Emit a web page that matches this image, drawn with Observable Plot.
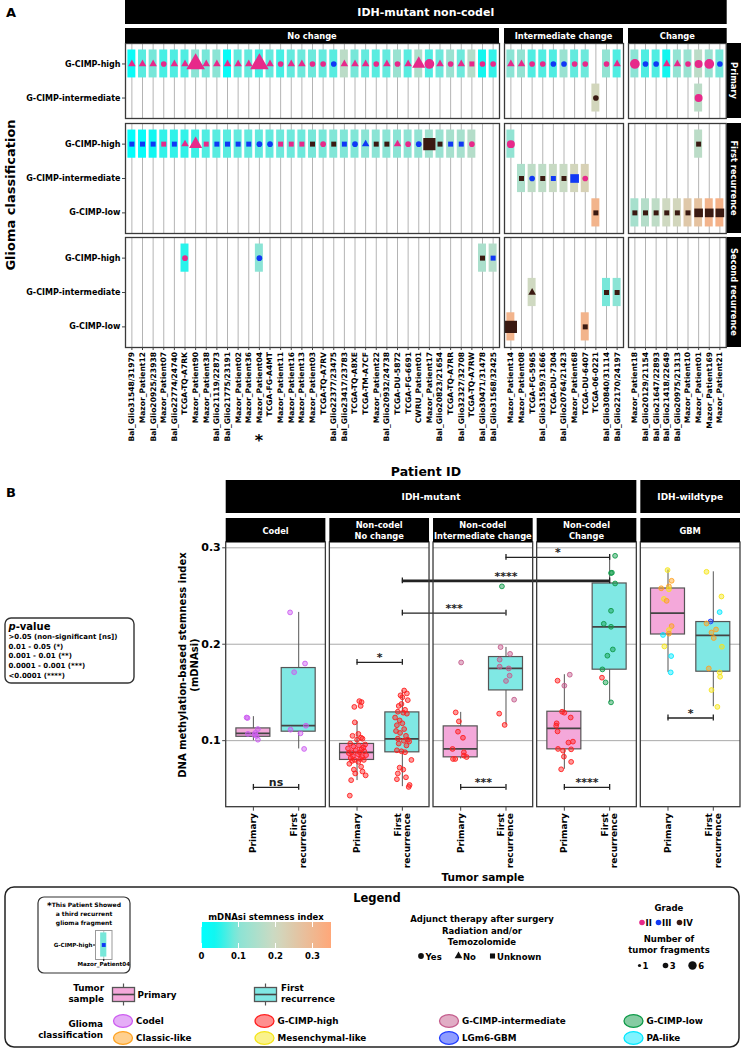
<!DOCTYPE html>
<html><head><meta charset="utf-8">
<script src="https://cdn.jsdelivr.net/npm/d3@7"></script>
<script src="https://cdn.jsdelivr.net/npm/@observablehq/plot@0.6"></script>
<style>
body{margin:0;background:#fff;}
#root{position:relative;width:741px;height:1050px;overflow:hidden;background:#fff;font-family:"DejaVu Sans",sans-serif;}
</style></head>
<body><div id="root"></div>
<script>
// ---------------- DATA ----------------
const noChangePatients = ["Bal_Glio31548/31979","Mazor_Patient12","Bal_Glio20925/23938","Mazor_Patient07","Bal_Glio22774/24740","TCGA-TQ-A7RK","Mazor_Patient90","Mazor_Patient38","Bal_Glio21119/22873","Bal_Glio21775/23191","Mazor_Patient02","Mazor_Patient36","Mazor_Patient04","TCGA-FG-A4MT","Mazor_Patient11","Mazor_Patient16","Mazor_Patient13","Mazor_Patient03","TCGA-TQ-A7RV","Bal_Glio22377/23475","Bal_Glio23417/23783","TCGA-TQ-A8XE","TCGA-TM-A7CF","Mazor_Patient22","Bal_Glio20932/24738","TCGA-DU-5872","TCGA-FG-6691","CWRU_Patient01","Mazor_Patient17","Bal_Glio20823/21654","TCGA-TQ-A7RR","Bal_Glio32327/32708","TCGA-TQ-A7RW","Bal_Glio30471/31478","Bal_Glio31568/32425"];
const intermediatePatients = ["Mazor_Patient14","Mazor_Patient08","TCGA-FG-5965","Bal_Glio31559/31666","TCGA-DU-7304","Bal_Glio20764/21423","Mazor_Patient68","TCGA-DU-6407","TCGA-06-0221","Bal_Glio30840/31114","Bal_Glio22170/24197"];
const changePatients = ["Mazor_Patient18","Bal_Glio20129/21154","Bal_Glio21647/22893","Bal_Glio21418/22649","Bal_Glio20975/21313","Mazor_Patient10","Mazor_Patient01","Mazor_Patient169","Mazor_Patient21"];
const groupNames = ["No change","Intermediate change","Change"];
const stageNames = ["Primary","First recurrence","Second recurrence"];
const primaryClasses = ["G-CIMP-high","G-CIMP-intermediate"];
const recurrenceClasses = ["G-CIMP-high","G-CIMP-intermediate","G-CIMP-low"];

// [patient, classification, mDNAsi, grade, adjunct therapy, number of fragments]
const primarySamples = [
["Bal_Glio31548/31979","G-CIMP-high",0.02,"II","No",1],
["Mazor_Patient12","G-CIMP-high",0.075,"II","No",1],
["Bal_Glio20925/23938","G-CIMP-high",0.09,"II","No",1],
["Mazor_Patient07","G-CIMP-high",0.065,"II","Yes",1],
["Bal_Glio22774/24740","G-CIMP-high",0.07,"II","No",1],
["TCGA-TQ-A7RK","G-CIMP-high",0.07,"II","No",1],
["Mazor_Patient90","G-CIMP-high",0.1,"II","No",6],
["Mazor_Patient38","G-CIMP-high",0.09,"II","No",1],
["Bal_Glio21119/22873","G-CIMP-high",0.1,"II","No",1],
["Bal_Glio21775/23191","G-CIMP-high",0.02,"II","No",1],
["Mazor_Patient02","G-CIMP-high",0.08,"II","No",1],
["Mazor_Patient36","G-CIMP-high",0.08,"II","No",1],
["Mazor_Patient04","G-CIMP-high",0.065,"II","No",6],
["TCGA-FG-A4MT","G-CIMP-high",0.08,"II","No",1],
["Mazor_Patient11","G-CIMP-high",0.065,"II","Yes",1],
["Mazor_Patient16","G-CIMP-high",0.08,"II","No",1],
["Mazor_Patient13","G-CIMP-high",0.085,"II","No",1],
["Mazor_Patient03","G-CIMP-high",0.085,"II","Yes",1],
["TCGA-TQ-A7RV","G-CIMP-high",0.08,"II","Yes",1],
["Bal_Glio22377/23475","G-CIMP-high",0.075,"III","Yes",1],
["Bal_Glio23417/23783","G-CIMP-high",0.17,"II","No",1],
["TCGA-TQ-A8XE","G-CIMP-high",0.09,"II","No",1],
["TCGA-TM-A7CF","G-CIMP-high",0.08,"II","No",1],
["Mazor_Patient22","G-CIMP-high",0.075,"II","Yes",1],
["Bal_Glio20932/24738","G-CIMP-high",0.08,"II","No",1],
["TCGA-DU-5872","G-CIMP-high",0.12,"II","Yes",1],
["TCGA-FG-6691","G-CIMP-high",0.075,"II","No",1],
["CWRU_Patient01","G-CIMP-high",0.15,"II","No",3],
["Mazor_Patient17","G-CIMP-high",0.07,"II","Yes",3],
["Bal_Glio20823/21654","G-CIMP-high",0.085,"II","No",1],
["TCGA-TQ-A7RR","G-CIMP-high",0.12,"II","Yes",1],
["Bal_Glio32327/32708","G-CIMP-high",0.085,"II","No",1],
["TCGA-TQ-A7RW","G-CIMP-high",0.16,"II","Unknown",1],
["Bal_Glio30471/31478","G-CIMP-high",0.04,"II","Yes",1],
["Bal_Glio31568/32425","G-CIMP-high",0.055,"II","Yes",1],
["Mazor_Patient14","G-CIMP-high",0.1,"II","No",1],
["Mazor_Patient08","G-CIMP-high",0.11,"II","No",1],
["TCGA-FG-5965","G-CIMP-high",0.07,"II","Yes",1],
["Bal_Glio31559/31666","G-CIMP-high",0.07,"II","Yes",1],
["TCGA-DU-7304","G-CIMP-high",0.07,"III","Yes",1],
["Bal_Glio20764/21423","G-CIMP-high",0.12,"III","Yes",1],
["Mazor_Patient68","G-CIMP-high",0.08,"II","Yes",1],
["TCGA-DU-6407","G-CIMP-high",0.085,"II","Yes",1],
["TCGA-06-0221","G-CIMP-intermediate",0.21,"IV","Yes",1],
["Bal_Glio30840/31114","G-CIMP-high",0.11,"II","Yes",1],
["Bal_Glio22170/24197","G-CIMP-high",0.07,"II","No",1],
["Mazor_Patient18","G-CIMP-high",0.1,"II","Yes",3],
["Bal_Glio20129/21154","G-CIMP-high",0.07,"III","Yes",1],
["Bal_Glio21647/22893","G-CIMP-high",0.07,"III","Yes",1],
["Bal_Glio21418/22649","G-CIMP-high",0.04,"II","No",1],
["Bal_Glio20975/21313","G-CIMP-high",0.11,"II","No",1],
["Mazor_Patient10","G-CIMP-high",0.12,"II","Yes",1],
["Mazor_Patient01","G-CIMP-high",0.17,"II","Yes",2],
["Mazor_Patient01","G-CIMP-intermediate",0.17,"II","Yes",2],
["Mazor_Patient169","G-CIMP-high",0.12,"II","Yes",3],
["Mazor_Patient21","G-CIMP-high",0.09,"III","Yes",1]
];
const firstRecurrenceSamples = [
["Bal_Glio31548/31979","G-CIMP-high",0.01,"III","Unknown",1],
["Mazor_Patient12","G-CIMP-high",0.015,"III","Unknown",1],
["Bal_Glio20925/23938","G-CIMP-high",0.035,"III","Unknown",1],
["Mazor_Patient07","G-CIMP-high",0.055,"II","Unknown",1],
["Bal_Glio22774/24740","G-CIMP-high",0.055,"III","Unknown",1],
["TCGA-TQ-A7RK","G-CIMP-high",0.055,"II","No",1],
["Mazor_Patient90","G-CIMP-high",0.06,"II","No",3],
["Mazor_Patient38","G-CIMP-high",0.07,"II","Unknown",1],
["Bal_Glio21119/22873","G-CIMP-high",0.075,"III","Unknown",1],
["Bal_Glio21775/23191","G-CIMP-high",0.075,"III","Unknown",1],
["Mazor_Patient02","G-CIMP-high",0.08,"III","Unknown",1],
["Mazor_Patient36","G-CIMP-high",0.08,"III","Unknown",1],
["Mazor_Patient04","G-CIMP-high",0.08,"III","Yes",1],
["TCGA-FG-A4MT","G-CIMP-high",0.08,"III","Yes",1],
["Mazor_Patient11","G-CIMP-high",0.085,"II","Unknown",1],
["Mazor_Patient16","G-CIMP-high",0.085,"II","Unknown",1],
["Mazor_Patient13","G-CIMP-high",0.085,"II","Unknown",1],
["Mazor_Patient03","G-CIMP-high",0.09,"IV","Unknown",1],
["TCGA-TQ-A7RV","G-CIMP-high",0.09,"II","Yes",1],
["Bal_Glio22377/23475","G-CIMP-high",0.095,"IV","Unknown",1],
["Bal_Glio23417/23783","G-CIMP-high",0.095,"III","Unknown",1],
["TCGA-TQ-A8XE","G-CIMP-high",0.095,"III","Yes",1],
["TCGA-TM-A7CF","G-CIMP-high",0.1,"III","No",1],
["Mazor_Patient22","G-CIMP-high",0.1,"IV","Unknown",1],
["Bal_Glio20932/24738","G-CIMP-high",0.1,"IV","Unknown",1],
["TCGA-DU-5872","G-CIMP-high",0.1,"II","No",1],
["TCGA-FG-6691","G-CIMP-high",0.105,"II","Yes",1],
["CWRU_Patient01","G-CIMP-high",0.11,"III","Yes",1],
["Mazor_Patient17","G-CIMP-high",0.13,"IV","Unknown",6],
["Bal_Glio20823/21654","G-CIMP-high",0.12,"IV","Unknown",1],
["TCGA-TQ-A7RR","G-CIMP-high",0.14,"III","Unknown",1],
["Bal_Glio32327/32708","G-CIMP-high",0.14,"III","Unknown",1],
["TCGA-TQ-A7RW","G-CIMP-high",0.16,"II","Yes",1],
["Mazor_Patient14","G-CIMP-high",0.11,"II","Yes",2],
["Mazor_Patient08","G-CIMP-intermediate",0.15,"IV","Unknown",1],
["TCGA-FG-5965","G-CIMP-intermediate",0.175,"III","Yes",1],
["Bal_Glio31559/31666","G-CIMP-intermediate",0.175,"IV","Unknown",1],
["TCGA-DU-7304","G-CIMP-intermediate",0.19,"III","Unknown",1],
["Bal_Glio20764/21423","G-CIMP-intermediate",0.19,"IV","Unknown",1],
["Mazor_Patient68","G-CIMP-intermediate",0.21,"III","Unknown",3],
["TCGA-DU-6407","G-CIMP-intermediate",0.225,"II","Yes",1],
["TCGA-06-0221","G-CIMP-low",0.31,"IV","Unknown",1],
["Mazor_Patient01","G-CIMP-high",0.17,"IV","Unknown",1],
["Mazor_Patient18","G-CIMP-low",0.14,"IV","Unknown",1],
["Bal_Glio20129/21154","G-CIMP-low",0.16,"IV","Unknown",1],
["Bal_Glio21647/22893","G-CIMP-low",0.175,"IV","Unknown",1],
["Bal_Glio21418/22649","G-CIMP-low",0.2,"IV","Unknown",1],
["Bal_Glio20975/21313","G-CIMP-low",0.21,"IV","Unknown",1],
["Mazor_Patient10","G-CIMP-low",0.25,"IV","Unknown",1],
["Mazor_Patient01","G-CIMP-low",0.27,"IV","Unknown",3],
["Mazor_Patient169","G-CIMP-low",0.31,"IV","Unknown",3],
["Mazor_Patient21","G-CIMP-low",0.32,"IV","Unknown",3]
];
const secondRecurrenceSamples = [
["TCGA-TQ-A7RK","G-CIMP-high",0.05,"II","Yes",1],
["Mazor_Patient04","G-CIMP-high",0.1,"III","Yes",1],
["Bal_Glio30471/31478","G-CIMP-high",0.145,"IV","Unknown",1],
["Bal_Glio31568/32425","G-CIMP-high",0.16,"III","Unknown",1],
["Mazor_Patient14","G-CIMP-low",0.31,"IV","Unknown",6],
["TCGA-FG-5965","G-CIMP-intermediate",0.2,"IV","No",1],
["TCGA-DU-6407","G-CIMP-low",0.31,"IV","Unknown",1],
["Bal_Glio30840/31114","G-CIMP-intermediate",0.09,"IV","Unknown",1],
["Bal_Glio22170/24197","G-CIMP-intermediate",0.1,"IV","Unknown",1]
];
const starPatient = ["Mazor_Patient04","G-CIMP-high",0.09,"III","Unknown",1];

const grades = ["II","III","IV"];
const gradeColors = ["#E7298A","#1038F5","#3A1A12"];
const therapies = ["Yes","No","Unknown"];
const therapySymbols = ["circle","triangle","square"];
const tileDomain = [0, 0.04, 0.1, 0.2, 0.35];
const tileRange = ["#00FFFF","#14F6EF","#8BE4D5","#CFD9C1","#FFA779"];
const stemTicks = [0, 0.1, 0.2, 0.3];

// Panel B
const panelsB = ["Codel","Non-codel No change","Non-codel Intermediate change","Non-codel Change","GBM"];
const panelStrips = [["Codel"],["Non-codel","No change"],["Non-codel","Intermediate change"],["Non-codel","Change"],["GBM"]];
const tumorSamples = ["Primary","First recurrence"];
const tumorTickLabels = ["Primary","First\nrecurrence"];
const classNames = ["Codel","G-CIMP-high","G-CIMP-intermediate","G-CIMP-low","Classic-like","Mesenchymal-like","LGm6-GBM","PA-like"];
const classColors = ["#CC5CF0","#FF1F1F","#C45C8C","#0E9A48","#FFA21F","#F5E51A","#1F3CFF","#00E8FF"];
// [panel, sample, lower whisker, Q1, median, Q3, upper whisker]
const boxStats = [
[0,0,0.100,0.104,0.1075,0.1127,0.1249],
[0,1,0.0914,0.1093,0.1155,0.1753,0.2330],
[1,0,0.0586,0.0800,0.0879,0.0966,0.1197],
[1,1,0.0523,0.0879,0.1018,0.1293,0.1518],
[2,0,0.0810,0.0827,0.0914,0.1148,0.1293],
[2,1,0.1163,0.1521,0.1749,0.1867,0.1967],
[3,0,0.0703,0.0910,0.1128,0.1300,0.1684],
[3,1,0.1397,0.1736,0.2181,0.2630,0.2917],
[4,0,0.1708,0.2101,0.2323,0.2578,0.2769],
[4,1,0.1352,0.1715,0.2091,0.2230,0.2751]
];
// points: [jitter offset, mDNAsi, classification]
const codelPrimaryPts = [[-0.15,0.124,"Codel"],[-0.13,0.1235,"Codel"],[-0.12,0.107,"Codel"],[0.1,0.112,"Codel"],[0.04,0.108,"Codel"],[0.07,0.105,"Codel"],[0.1,0.101,"Codel"],[0.02,0.106,"Codel"]];
const codelFirstPts = [[-0.19,0.233,"Codel"],[0.14,0.180,"Codel"],[-0.1,0.171,"Codel"],[0.16,0.1155,"Codel"],[-0.18,0.1114,"Codel"],[0.04,0.1076,"Codel"],[0.12,0.0914,"Codel"]];
const ncncPrimaryValues = [[0.05,0.141],[0.1,0.140],[0.08,0.136],[-0.06,0.135],[-0.05,0.119],[0.03,0.107],[-0.1,0.105],[0.09,0.103],[0.12,0.102],[0.0,0.101],
[-0.15,0.097],[0.18,0.096],[0.04,0.095],[-0.08,0.094],[0.14,0.093],[-0.2,0.092],[0.1,0.091],[-0.03,0.090],[0.16,0.089],[-0.12,0.088],
[0.06,0.088],[-0.18,0.087],[0.02,0.086],[0.2,0.085],[-0.09,0.084],[0.11,0.083],[-0.14,0.082],[0.07,0.081],[-0.05,0.080],[0.15,0.080],
[-0.11,0.079],[0.03,0.078],[-0.17,0.076],[0.09,0.073],[-0.07,0.070],[0.12,0.068],[-0.04,0.066],[0.19,0.064],[-0.13,0.059],[-0.16,0.043]];
const ncncFirstValues = [[0.04,0.152],[0.1,0.149],[-0.04,0.147],[0.0,0.145],[0.12,0.142],[-0.02,0.138],[-0.08,0.136],[0.06,0.132],[-0.1,0.130],[0.02,0.129],
[0.1,0.128],[-0.16,0.124],[-0.06,0.121],[0.0,0.118],[-0.12,0.116],[0.04,0.112],[-0.14,0.110],[-0.05,0.108],[0.08,0.105],[-0.1,0.102],
[0.12,0.101],[0.03,0.100],[0.15,0.099],[-0.08,0.097],[0.09,0.095],[-0.12,0.090],[-0.02,0.089],[0.06,0.088],[0.2,0.080],[-0.06,0.072],
[0.02,0.070],[-0.1,0.066],[0.08,0.062],[-0.12,0.060],[0.16,0.054],[0.14,0.052]];
const ncicPrimaryPts = [[-0.11,0.1293,"G-CIMP-high"],[-0.04,0.120,"G-CIMP-high"],[-0.06,0.1093,"G-CIMP-high"],[0.05,0.103,"G-CIMP-high"],[0.01,0.1811,"G-CIMP-intermediate"],[-0.18,0.0914,"G-CIMP-high"],[0.07,0.0879,"G-CIMP-high"],[0.07,0.0845,"G-CIMP-high"],[0.13,0.083,"G-CIMP-high"],[-0.17,0.081,"G-CIMP-high"],[-0.12,0.081,"G-CIMP-high"]];
const ncicFirstPts = [[-0.09,0.260,"G-CIMP-low"],[-0.12,0.197,"G-CIMP-intermediate"],[0.09,0.190,"G-CIMP-intermediate"],[-0.14,0.184,"G-CIMP-intermediate"],[-0.14,0.1767,"G-CIMP-intermediate"],[0.06,0.1749,"G-CIMP-intermediate"],[0.08,0.1674,"G-CIMP-intermediate"],[0.0,0.1619,"G-CIMP-intermediate"],[0.18,0.1425,"G-CIMP-intermediate"],[-0.15,0.128,"G-CIMP-high"],[-0.03,0.1163,"G-CIMP-high"]];
const nccPrimaryPts = [[0.12,0.1684,"G-CIMP-intermediate"],[-0.15,0.1622,"G-CIMP-high"],[0.0,0.157,"G-CIMP-intermediate"],[-0.05,0.130,"G-CIMP-high"],[0.0,0.129,"G-CIMP-high"],[0.14,0.124,"G-CIMP-high"],[-0.17,0.118,"G-CIMP-high"],[-0.18,0.1155,"G-CIMP-high"],[-0.15,0.1096,"G-CIMP-high"],[0.09,0.098,"G-CIMP-high"],[0.19,0.099,"G-CIMP-high"],[-0.14,0.0914,"G-CIMP-high"],[-0.03,0.0896,"G-CIMP-high"],[0.15,0.091,"G-CIMP-high"],[-0.01,0.0834,"G-CIMP-high"],[0.15,0.078,"G-CIMP-high"],[-0.07,0.0703,"G-CIMP-high"]];
const nccFirstPts = [[0.12,0.2917,"G-CIMP-low"],[0.03,0.2738,"G-CIMP-low"],[0.05,0.2742,"G-CIMP-low"],[0.12,0.263,"G-CIMP-low"],[0.03,0.2347,"G-CIMP-low"],[-0.13,0.2212,"G-CIMP-low"],[0.03,0.2181,"G-CIMP-low"],[0.07,0.1946,"G-CIMP-low"],[-0.05,0.1881,"G-CIMP-low"],[-0.16,0.1739,"G-CIMP-low"],[-0.17,0.1653,"G-CIMP-high"],[-0.09,0.1604,"G-CIMP-low"],[0.03,0.1397,"G-CIMP-low"]];
const gbmPrimaryPts = [[-0.01,0.2769,"Mesenchymal-like"],[0.08,0.2658,"Classic-like"],[0.02,0.26,"Classic-like"],[-0.15,0.258,"Classic-like"],[0.02,0.257,"Mesenchymal-like"],[-0.09,0.247,"Mesenchymal-like"],[-0.03,0.245,"Classic-like"],[0.08,0.2188,"Classic-like"],[0.02,0.2147,"Mesenchymal-like"],[0.02,0.211,"Classic-like"],[-0.11,0.2096,"PA-like"],[-0.08,0.1977,"Mesenchymal-like"],[0.07,0.1877,"PA-like"],[0.06,0.1708,"PA-like"]];
const gbmFirstPts = [[-0.15,0.2751,"Mesenchymal-like"],[0.18,0.2495,"Mesenchymal-like"],[0.14,0.2333,"PA-like"],[-0.06,0.2236,"LGm6-GBM"],[-0.15,0.2215,"Classic-like"],[0.06,0.2153,"Classic-like"],[-0.04,0.2122,"Classic-like"],[0.01,0.2064,"Classic-like"],[0.19,0.1974,"Mesenchymal-like"],[-0.1,0.1749,"Classic-like"],[0.14,0.1708,"Mesenchymal-like"],[0.15,0.1663,"Mesenchymal-like"],[-0.04,0.1525,"Mesenchymal-like"],[0.09,0.135,"Mesenchymal-like"]];
// significance brackets: [panel from, sample from, panel to, sample to, y, label, thick]
const brackets = [
[0,0,0,1,0.0516,"ns",0],
[1,0,1,1,0.1811,"*",0],
[1,1,2,1,0.2323,"***",0],
[1,1,3,1,0.2658,"****",1],
[2,1,3,1,0.2900,"*",0],
[2,0,2,1,0.0516,"***",0],
[3,0,3,1,0.0516,"****",0],
[4,0,4,1,0.1235,"*",0]
];
const yTicksB = [0.1, 0.2, 0.3];
const pValueLines = ["&gt;0.05 (non-significant [ns])","0.01 - 0.05 (*)","0.001 - 0.01 (**)","0.0001 - 0.001 (***)","&lt;0.0001 (****)"];

// ---------------- RENDER ----------------
const root = document.getElementById("root");
const FONT = "DejaVu Sans";
function place(el, left, top){ el.style.position="absolute"; el.style.left=left+"px"; el.style.top=top+"px"; root.appendChild(el); }
const tileColor = {type:"linear", domain: tileDomain, range: tileRange};
const colorFn = d3.scaleLinear(tileDomain, tileRange);

// ---- Panel A ----
const groupsA = [noChangePatients, intermediatePatients, changePatients];
const groupLeft = [125, 504, 628];
const stageRows = [primarySamples, firstRecurrenceSamples, secondRecurrenceSamples];
const stageClasses = [primaryClasses, recurrenceClasses, recurrenceClasses];
const stageTop = [43, 123, 237], stageBottom = [118, 233, 347];
const colW = 10.625;
let starX = 0;
groupsA.forEach((pats, gi) => stageRows.forEach((rows, si) => {
  const n = pats.length, cls = stageClasses[si], m = cls.length;
  const cells = rows.filter(r => pats.includes(r[0])).map(r => ({c: pats.indexOf(r[0]), r: cls.indexOf(r[1]), v: r[2], grade: r[3], therapy: r[4], frags: r[5]}));
  const mL = gi === 0 ? 125 : 1, mR = 1, mT = 1, mB = si === 2 ? 100 : 1;
  const w = (n + 0.2) * colW, h = stageBottom[si] - stageTop[si];
  const marks = [
    Plot.ruleX(d3.range(n), {x: d => d, stroke: "#b4b4b4", strokeWidth: 1}),
    Plot.rect(cells, {x1: d => d.c - 0.375, x2: d => d.c + 0.375, y1: d => d.r - 0.41, y2: d => d.r + 0.41, fill: d => d.v}),
    ...grades.map((g, k) => Plot.dot(cells.filter(d => d.grade === g), {x: "c", y: "r", symbol: "therapy", r: "frags", fill: gradeColors[k], stroke: "none"})),
    Plot.frame({stroke: "#3a3a3a", strokeWidth: 1.3})
  ];
  if (gi === 0) marks.push(Plot.axisY(d3.range(m), {tickFormat: i => cls[i], fontSize: 8, fontWeight: "bold", tickSize: 3, tickPadding: 2, stroke: "#444", label: null}));
  if (si === 2) marks.push(Plot.axisX(d3.range(n), {tickFormat: i => pats[i], tickRotate: -90, fontSize: 7.6, fontWeight: "bold", tickSize: 3, tickPadding: 1.5, stroke: "#444", label: null}));
  const p = Plot.plot({
    width: w + mL + mR, height: h + mT + mB, marginLeft: mL, marginRight: mR, marginTop: mT, marginBottom: mB,
    style: {fontFamily: FONT, fontWeight: "bold", background: "transparent", overflow: "visible"},
    x: {domain: [-0.6, n - 0.4], axis: null},
    y: {domain: [m - 0.4, -0.6], axis: null},
    color: tileColor,
    symbol: {domain: therapies, range: therapySymbols},
    r: {domain: [0, 6], range: [0, 6.9]},
    marks
  });
  place(p, groupLeft[gi] - mL, stageTop[si] - mT);
  if (gi === 0 && si === 2) { starX = groupLeft[0] - mL + p.scale("x").apply(pats.indexOf(starPatient[0])); }
}));

// ---- Panel B ----
const stepB = 2.288;
const cxB = (p, k) => p * stepB + 1 + k;
const yDomB = [0.031, 0.3055];
const boxes = boxStats.map(b => ({p: b[0], k: b[1], lo: b[2], q1: b[3], med: b[4], q3: b[5], hi: b[6], cx: cxB(b[0], b[1])}));
const ptGroups = [[0,0,codelPrimaryPts],[0,1,codelFirstPts],[1,0,ncncPrimaryValues.map(d=>[d[0],d[1],"G-CIMP-high"])],[1,1,ncncFirstValues.map(d=>[d[0],d[1],"G-CIMP-high"])],[2,0,ncicPrimaryPts],[2,1,ncicFirstPts],[3,0,nccPrimaryPts],[3,1,nccFirstPts],[4,0,gbmPrimaryPts],[4,1,gbmFirstPts]];
const pts = ptGroups.flatMap(([p, k, arr]) => arr.map(d => ({x: cxB(p, k) + d[0], v: d[1], cls: d[2]})));
const grid = d3.range(panelsB.length).flatMap(p => yTicksB.map(y => ({p, y})));
const br = brackets.map(b => ({x1: cxB(b[0], b[1]), x2: cxB(b[2], b[3]), y: b[4], label: b[5], thick: b[6]}));
const brEnds = br.flatMap(b => [{x: b.x1, y: b.y, t: b.thick}, {x: b.x2, y: b.y, t: b.thick}]);
const centersB = boxes.map(b => b.cx);
const pB = Plot.plot({
  width: 741, height: 2 + 264.7 + 75, marginLeft: 225.7, marginRight: 1, marginTop: 2, marginBottom: 75,
  style: {fontFamily: FONT, fontWeight: "bold", background: "transparent", overflow: "visible"},
  x: {domain: [0.4, (panelsB.length - 1) * stepB + 2.6], axis: null},
  y: {domain: yDomB, axis: null},
  color: {domain: classNames, range: classColors},
  marks: [
    Plot.ruleY(grid, {x1: d => d.p * stepB + 0.4, x2: d => d.p * stepB + 2.6, y: "y", stroke: "#a9a9a9", strokeWidth: 1}),
    Plot.ruleX(boxes, {x: "cx", y1: "lo", y2: "q1", stroke: "#555", strokeWidth: 1}),
    Plot.ruleX(boxes, {x: "cx", y1: "q3", y2: "hi", stroke: "#555", strokeWidth: 1}),
    Plot.rect(boxes.filter(b => b.k === 0), {x1: d => d.cx - 0.375, x2: d => d.cx + 0.375, y1: "q1", y2: "q3", fill: "#F4A8DA", stroke: "#555", strokeWidth: 1.2}),
    Plot.rect(boxes.filter(b => b.k === 1), {x1: d => d.cx - 0.375, x2: d => d.cx + 0.375, y1: "q1", y2: "q3", fill: "#80E8E4", stroke: "#555", strokeWidth: 1.2}),
    Plot.ruleY(boxes, {x1: d => d.cx - 0.375, x2: d => d.cx + 0.375, y: "med", stroke: "#444", strokeWidth: 1.8}),
    Plot.dot(pts, {x: "x", y: "v", fill: "cls", stroke: "cls", fillOpacity: 0.45, strokeOpacity: 0.9, r: 2.4, strokeWidth: 1}),
    Plot.ruleY(br, {x1: "x1", x2: "x2", y: "y", stroke: "#222", strokeWidth: d => d.thick ? 2.8 : 1.3}),
    Plot.ruleX(brEnds, {x: "x", y1: d => d.y - 0.003, y2: d => d.y + 0.003, stroke: "#222", strokeWidth: 1.3}),
    Plot.text(br, {x: d => (d.x1 + d.x2) / 2, y: "y", text: "label", dy: -1, lineAnchor: "bottom", fontSize: 11, fontWeight: "bold", fill: "#222"}),
    Plot.rect(d3.range(panelsB.length), {x1: p => p * stepB + 0.4, x2: p => p * stepB + 2.6, y1: () => yDomB[0], y2: () => yDomB[1], fill: "none", stroke: "#3a3a3a", strokeWidth: 1.3}),
    Plot.axisY(yTicksB, {tickFormat: d => d3.format(".1f")(d), fontSize: 11, fontWeight: "bold", tickSize: 3.5, tickPadding: 2, stroke: "#444", label: null}),
    Plot.axisX(centersB, {tickFormat: v => tumorTickLabels[boxes[d3.minIndex(centersB, c => Math.abs(c - v))].k], tickRotate: -90, fontSize: 9, fontWeight: "bold", tickSize: 4, tickPadding: 2, stroke: "#444", label: null})
  ]
});
place(pB, 0, 540);
const xsB = pB.scale("x");

// ---- star note mini plot ----
const mini = Plot.plot({
  width: 58, height: 43, marginLeft: 40, marginRight: 1.5, marginTop: 1, marginBottom: 13,
  style: {fontFamily: FONT, fontWeight: "bold", background: "transparent", overflow: "visible"},
  x: {domain: [-1, 1], axis: null}, y: {domain: [0.6, -0.6], axis: null},
  color: tileColor, symbol: {domain: therapies, range: therapySymbols},
  marks: [
    Plot.ruleX([0], {x: d => d, stroke: "#b8b8b8"}),
    Plot.rect([starPatient], {x1: () => -0.375, x2: () => 0.375, y1: () => -0.5, y2: () => 0.5, fill: d => d[2]}),
    Plot.dot([starPatient], {x: () => 0, y: () => 0, symbol: d => d[4], r: 2.2, fill: gradeColors[grades.indexOf(starPatient[3])]}),
    Plot.frame({stroke: "#999", strokeWidth: 1}),
    Plot.axisY([0], {tickFormat: () => starPatient[1], fontSize: 5.6, fontWeight: "bold", tickSize: 2, tickPadding: 1, label: null}),
    Plot.axisX([0], {tickFormat: () => starPatient[0], fontSize: 5.6, fontWeight: "bold", tickSize: 2, tickPadding: 1, label: null})
  ]
});
place(mini, 54.5, 929);

// ---------------- OVERLAY (strips, titles, legend) ----------------
const ov = [];
function T(x, y, s, o = {}) {
  ov.push(`<text x="${x}" y="${y}" font-size="${o.size || 9}" text-anchor="${o.anchor || "middle"}" fill="${o.fill || "#000"}" font-weight="bold"${o.rot ? ` transform="rotate(${o.rot} ${x} ${y})"` : ""}${o.db ? ` dominant-baseline="${o.db}"` : ""}>${s}</text>`);
}
function R(x, y, w, h, o = {}) {
  ov.push(`<rect x="${x}" y="${y}" width="${w}" height="${h}" fill="${o.fill || "#000"}"${o.stroke ? ` stroke="${o.stroke}" stroke-width="${o.sw || 1}"` : ""} rx="${o.rx || 0}"/>`);
}
const W = "#fff";
// Panel A strips
R(125, 0, 601.7, 24); T(425.8, 12.5, "IDH-mutant non-codel", {size: 11, fill: W, db: "central"});
const stripA = [[125, 374], [504, 119], [628, 98.7]];
groupNames.forEach((g, i) => { R(stripA[i][0], 28, stripA[i][1], 15); T(stripA[i][0] + stripA[i][1] / 2, 36, g, {size: 8.3, fill: W, db: "central"}); });
stageNames.forEach((s, i) => { R(727, stageTop[i], 14, stageBottom[i] - stageTop[i]); T(734, (stageTop[i] + stageBottom[i]) / 2, s, {size: 8.3, fill: W, db: "central", rot: 90}); });
T(6, 17, "A", {size: 13, anchor: "start"});
T(15, 195, "Glioma classification", {size: 13, rot: -90});
T(starX, 446, "*", {size: 16});
T(426, 476, "Patient ID", {size: 12.5});
// Panel B strips
T(6, 497, "B", {size: 13, anchor: "start"});
const pl = p => xsB.apply(p * stepB + 0.4), pr = p => xsB.apply(p * stepB + 2.6);
R(pl(0), 480, pr(3) - pl(0), 33); T((pl(0) + pr(3)) / 2, 497, "IDH-mutant", {size: 9, fill: W, db: "central"});
R(pl(4), 480, pr(4) - pl(4), 33); T((pl(4) + pr(4)) / 2, 497, "IDH-wildtype", {size: 9, fill: W, db: "central"});
panelStrips.forEach((lines, p) => {
  R(pl(p), 518, pr(p) - pl(p), 24);
  const c = (pl(p) + pr(p)) / 2;
  if (lines.length === 1) T(c, 530.5, lines[0], {size: 8.3, fill: W, db: "central"});
  else { T(c, 525, lines[0], {size: 8.3, fill: W, db: "central"}); T(c, 536, lines[1], {size: 8.3, fill: W, db: "central"}); }
});
T(185.5, 665, "DNA methylation-based stemness index", {size: 10, rot: -90});
T(197.5, 665, "(mDNAsi)", {size: 10, rot: -90});
// p-value box
R(5, 618, 129, 65, {fill: W, stroke: "#333", sw: 1.4, rx: 6});
ov.push(`<text x="8.5" y="629.5" font-size="10" font-weight="bold"><tspan font-style="italic">p</tspan>-value</text>`);
pValueLines.forEach((s, i) => T(8.5, 638.8 + i * 9.7, s, {size: 7, anchor: "start"}));
T(483, 881, "Tumor sample", {size: 10.5});

// Legend
R(5, 887, 734, 160, {fill: "none", stroke: "#222", sw: 1.5, rx: 9});
T(377, 901.5, "Legend", {size: 11.5});
R(38, 897, 92, 76, {fill: "none", stroke: "#333", sw: 1.2, rx: 6});
ov.push(`<text x="84" y="906.5" font-size="6" font-weight="bold" text-anchor="middle"><tspan font-size="9" dy="2">*</tspan><tspan dy="-2">This Patient Showed</tspan></text>`);
T(84, 915.5, "a third recurrent", {size: 6});
T(84, 924.5, "glioma fragment", {size: 6});
// gradient
const gx0 = 201.5, gx1 = 331, gy = 922, gh = 26;
const gs = d3.scaleLinear([0, 0.35], [gx0, gx1]);
ov.push(`<defs><linearGradient id="stem" x1="0" x2="1" y1="0" y2="0">${d3.range(0, 1.0001, 0.05).map(t => `<stop offset="${t}" stop-color="${colorFn(t * 0.35)}"/>`).join("")}</linearGradient></defs>`);
T(266, 920, "mDNAsi stemness index", {size: 8.5});
ov.push(`<rect x="${gx0}" y="${gy}" width="${gx1 - gx0}" height="${gh}" fill="url(#stem)"/>`);
stemTicks.forEach(t => {
  const x = gs(t);
  ov.push(`<line x1="${x}" x2="${x}" y1="${gy}" y2="${gy + 5}" stroke="#fff" stroke-width="1"/><line x1="${x}" x2="${x}" y1="${gy + gh - 5}" y2="${gy + gh}" stroke="#fff" stroke-width="1"/>`);
  T(x, 958.5, String(t), {size: 8.5});
});
// adjunct therapy
T(482, 922, "Adjunct therapy after surgery", {size: 8.5});
T(482, 933.5, "Radiation and/or", {size: 8.5});
T(482, 944.5, "Temozolomide", {size: 8.5});
const symX = [421, 458.5, 492.5];
therapies.forEach((t, i) => {
  const sym = d3.symbol(d3["symbol" + therapySymbols[i][0].toUpperCase() + therapySymbols[i].slice(1)], 26)();
  ov.push(`<path d="${sym}" transform="translate(${symX[i]},956)" fill="#111"/>`);
  T(symX[i] + 4.5, 959.5, t, {size: 8.5, anchor: "start"});
});
// grade
T(669, 911, "Grade", {size: 8.5});
const gX = [642, 658.5, 679.5];
grades.forEach((g, i) => { ov.push(`<circle cx="${gX[i]}" cy="922.5" r="2.8" fill="${gradeColors[i]}"/>`); T(gX[i] + 3.5, 925.5, g, {size: 8.5, anchor: "start"}); });
T(669, 942, "Number of", {size: 8.5});
T(669, 953, "tumor fragments", {size: 8.5});
const fragX = [639.5, 665.5, 692.5], fragR = [1.6, 2.8, 4.2], fragL = ["1", "3", "6"];
fragL.forEach((f, i) => { ov.push(`<circle cx="${fragX[i]}" cy="965.5" r="${fragR[i]}" fill="#111"/>`); T(fragX[i] + fragR[i] + 1.5, 969, f, {size: 8.5, anchor: "start"}); });
// tumor sample
T(104, 991, "Tumor", {size: 8.8, anchor: "end"});
T(104, 1002, "sample", {size: 8.8, anchor: "end"});
const boxKey = (x, fill) => {
  ov.push(`<line x1="${x + 11}" x2="${x + 11}" y1="983.5" y2="1005.5" stroke="#555" stroke-width="1.2"/>`);
  ov.push(`<rect x="${x}" y="987.5" width="22" height="14" fill="${fill}" stroke="#555" stroke-width="1.3"/>`);
  ov.push(`<line x1="${x}" x2="${x + 22}" y1="994.5" y2="994.5" stroke="#444" stroke-width="1.6"/>`);
};
boxKey(112.5, "#F4A8DA"); T(137.5, 998, tumorSamples[0], {size: 8.8, anchor: "start"});
boxKey(254.5, "#80E8E4"); T(281, 991, "First", {size: 8.8, anchor: "start"}); T(281, 1002, "recurrence", {size: 8.8, anchor: "start"});
// glioma classification
T(103, 1026.5, "Glioma", {size: 8.8, anchor: "end"});
T(103, 1037.5, "classification", {size: 8.8, anchor: "end"});
const ekX = [123, 264.5, 449, 633.5];
classNames.forEach((c, i) => {
  const col = i % 4, row = Math.floor(i / 4);
  const cy = row === 0 ? 1021 : 1038;
  ov.push(`<ellipse cx="${ekX[col]}" cy="${cy}" rx="9.5" ry="6.3" fill="${classColors[i]}" fill-opacity="0.5" stroke="${classColors[i]}" stroke-width="1.3"/>`);
  T(ekX[col] + 13, cy + 3.3, c, {size: 8.8, anchor: "start"});
});

const svgNS = "http://www.w3.org/2000/svg";
const ovEl = document.createElementNS(svgNS, "svg");
ovEl.setAttribute("width", 741); ovEl.setAttribute("height", 1050);
ovEl.setAttribute("font-family", FONT);
ovEl.innerHTML = ov.join("");
ovEl.style.pointerEvents = "none";
place(ovEl, 0, 0);
</script></body></html>
